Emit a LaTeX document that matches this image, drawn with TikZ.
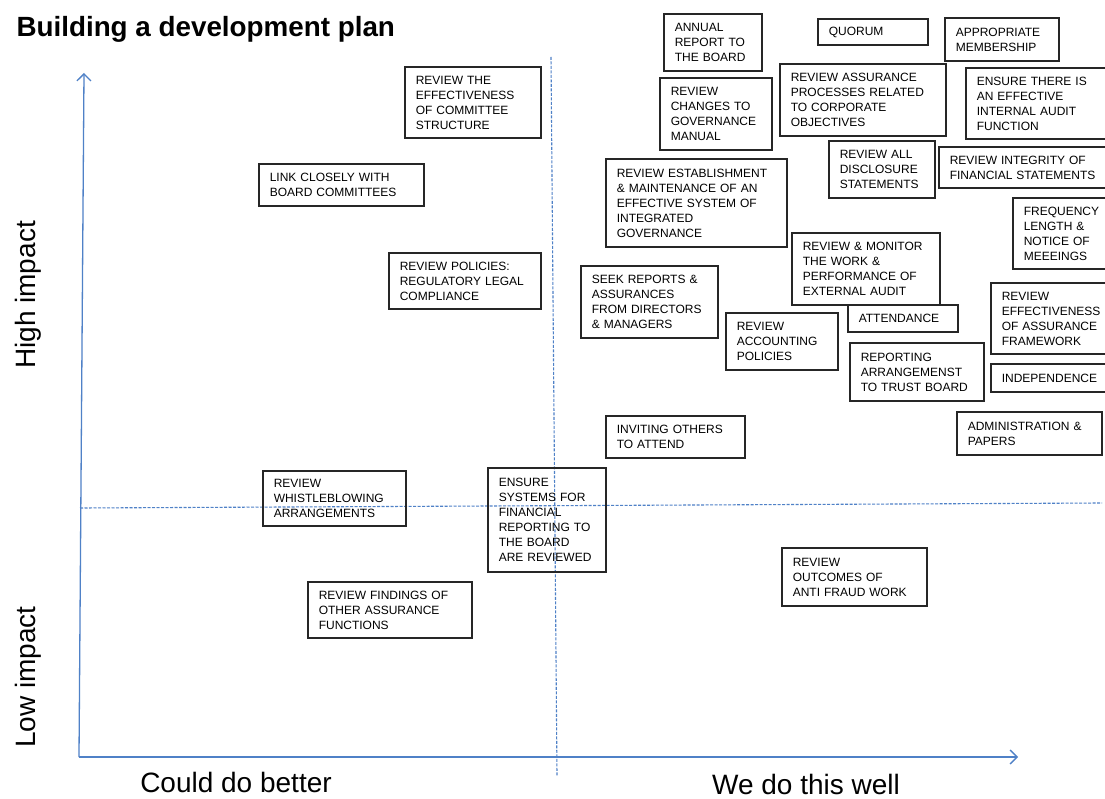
\documentclass[tikz,border=0pt]{standalone}
\usepackage{fontspec}
\setmainfont{Liberation Sans}
\usetikzlibrary{arrows.meta}
\definecolor{axisblue}{RGB}{79,129,199}
\tikzset{
	task/.style={draw=black!85, line width=1.5pt, align=left, anchor=west, inner xsep=11pt, inner ysep=2pt, font=\fontsize{12}{15}\selectfont},
	axis/.style={axisblue, line width=1.3pt, -{Straight Barb[length=7pt, width=14pt]}},
	split/.style={axisblue, line width=1.1pt, dash pattern=on 3pt off 1.5pt},
	axislabel/.style={font=\fontsize{28}{32}\selectfont}
}

\begin{document}
\begin{tikzpicture}[x=1pt,y=-1pt]
	\useasboundingbox (0,0) rectangle (1105,799);
	\clip (0,0) rectangle (1105,799);
	\fill[white] (0,0) rectangle (1105,799);
	\node[anchor=base west, font=\bfseries\fontsize{27.8}{30}\selectfont] (title) at (13,37) {Building a development plan};

	\coordinate (origin) at (79,757);
	\coordinate (ytip) at (84,73);
	\coordinate (xtip) at (1018,757);
	\coordinate (vtop) at (551,57);
	\coordinate (vbot) at (557,776);
	\coordinate (hleft) at (80,508);
	\coordinate (hright) at (1102,503);
	\draw[split] (vtop) -- (vbot);
	\draw[split] (hleft) -- (hright);
	\draw[axis] (origin) -- (ytip);
	\draw[axis] (origin) -- (xtip);

	\node[axislabel, rotate=90, anchor=base] (high) at (35,295) {High impact};
	\node[axislabel, rotate=90, anchor=base] (low) at (35,677) {Low impact};
	\node[axislabel, anchor=base] (better) at (236,792) {Could do better};
	\node[axislabel, anchor=base] (well) at (806,794) {We do this well};

	\node[task, text width=114pt, minimum height=71pt] (committee) at (404,102.5) {REVIEW THE\\EFFECTIVENESS\\OF COMMITTEE\\STRUCTURE};
	\node[task, text width=143pt, minimum height=42pt] (link) at (258,185) {LINK CLOSELY WITH\\BOARD COMMITTEES};
	\node[task, text width=130pt, minimum height=56pt] (policies) at (388,281) {REVIEW POLICIES:\\REGULATORY LEGAL\\COMPLIANCE};
	\node[task, text width=76pt, minimum height=57pt] (annual) at (663,42.5) {ANNUAL\\REPORT TO\\THE BOARD};
	\node[task, text width=88pt, minimum height=26pt] (quorum) at (817,32) {QUORUM};
	\node[task, text width=92pt, minimum height=43pt] (membership) at (944,39.5) {APPROPRIATE\\MEMBERSHIP};
	\node[task, text width=90pt, minimum height=72pt] (manual) at (659,114) {REVIEW\\CHANGES TO\\GOVERNANCE\\MANUAL};
	\node[task, text width=144pt, minimum height=72pt] (objectives) at (779,100) {REVIEW ASSURANCE\\PROCESSES RELATED\\TO CORPORATE\\OBJECTIVES};
	\node[task, text width=128pt, minimum height=71pt] (internalaudit) at (965,103.5) {ENSURE THERE IS\\AN EFFECTIVE\\INTERNAL AUDIT\\FUNCTION};
	\node[task, text width=84pt, minimum height=57pt] (disclosure) at (828,169.5) {REVIEW ALL\\DISCLOSURE\\STATEMENTS};
	\node[task, text width=158pt, minimum height=41pt] (integrity) at (938,167.5) {REVIEW INTEGRITY OF\\FINANCIAL STATEMENTS};
	\node[task, text width=159pt, minimum height=88pt] (establishment) at (605,203) {REVIEW ESTABLISHMENT\\\& MAINTENANCE OF AN\\EFFECTIVE SYSTEM OF\\INTEGRATED\\GOVERNANCE};
	\node[task, text width=88pt, minimum height=71pt] (frequency) at (1012,233.5) {FREQUENCY\\LENGTH \&\\NOTICE OF\\MEEEINGS};
	\node[task, text width=126pt, minimum height=72pt] (monitor) at (791,269) {REVIEW \& MONITOR\\THE WORK \&\\PERFORMANCE OF\\EXTERNAL AUDIT};
	\node[task, text width=115pt, minimum height=72pt] (seek) at (580,302) {SEEK REPORTS \&\\ASSURANCES\\FROM DIRECTORS\\\& MANAGERS};
	\node[task, text width=90pt, minimum height=57pt] (accounting) at (725,341.5) {REVIEW\\ACCOUNTING\\POLICIES};
	\node[task, text width=88pt, minimum height=27pt] (attendance) at (847,318.5) {ATTENDANCE};
	\node[task, text width=112pt, minimum height=58pt] (reporting) at (849,372) {REPORTING\\ARRANGEMENST\\TO TRUST BOARD};
	\node[task, text width=113pt, minimum height=71pt] (effectiveness) at (990,318.5) {REVIEW\\EFFECTIVENESS\\OF ASSURANCE\\FRAMEWORK};
	\node[task, text width=113pt, minimum height=28pt] (independence) at (990,378) {INDEPENDENCE};
	\node[task, text width=117pt, minimum height=42pt] (inviting) at (605,437) {INVITING OTHERS\\TO ATTEND};
	\node[task, text width=123pt, minimum height=43pt] (admin) at (956,433.5) {ADMINISTRATION \&\\PAPERS};
	\node[task, text width=121pt, minimum height=55pt] (whistle) at (262,498.5) {REVIEW\\WHISTLEBLOWING\\ARRANGEMENTS};
	\node[task, text width=96pt, minimum height=104pt] (ensure) at (487,520) {ENSURE\\SYSTEMS FOR\\FINANCIAL\\REPORTING TO\\THE BOARD\\ARE REVIEWED};
	\node[task, text width=142pt, minimum height=56pt] (findings) at (307,610) {REVIEW FINDINGS OF\\OTHER ASSURANCE\\FUNCTIONS};
	\node[task, text width=123pt, minimum height=58pt] (fraud) at (781,577) {REVIEW\\OUTCOMES OF\\ANTI FRAUD WORK};
\end{tikzpicture}
\end{document}
